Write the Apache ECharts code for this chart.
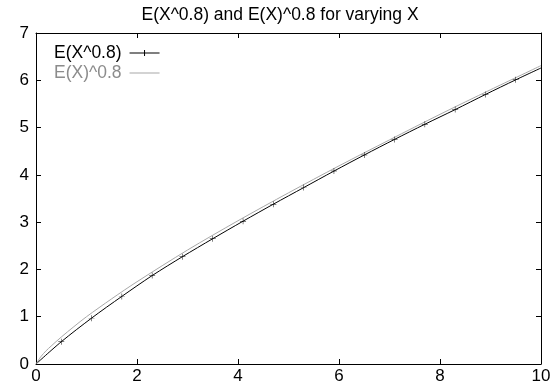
<!DOCTYPE html>
<html lang="en">
<head>
    <meta charset="UTF-8">
    <title>E(X^0.8) and E(X)^0.8</title>
    <script src="https://cdn.jsdelivr.net/npm/echarts@6/dist/echarts.min.js"></script>
</head>
<body style="margin:0;">
<div id="main" style="width:560px; height:387px;"></div>
</body>
<script type="text/javascript">

    // E(X^0.8): points with markers, plus the two end points
    let markX = [0.5, 1.1, 1.7, 2.3, 2.9, 3.5, 4.1, 4.7, 5.3, 5.9, 6.5, 7.1, 7.7, 8.3, 8.9, 9.5];
    let markY = [0.47, 0.97, 1.43, 1.87, 2.27, 2.65, 3.02, 3.38, 3.73, 4.08, 4.42, 4.75, 5.07, 5.38, 5.70, 6.01];
    let endX = [0, 10];
    let endY = [0, 6.26];

    // E(X)^0.8
    let grayX = [0, 0.1, 0.2, 0.3, 0.5, 0.75, 1, 1.5, 2, 3, 4, 5, 6, 7, 8, 9, 10];
    let grayY = [0, 0.16, 0.28, 0.38, 0.57, 0.79, 1.0, 1.38, 1.74, 2.41, 3.03, 3.62, 4.19, 4.74, 5.28, 5.80, 6.31];

    let plus = 'path://M4.6,0h0.8v4.6h4.6v0.8h-4.6v4.6h-0.8v-4.6h-4.6v-0.8h4.6z';
    // legend icons: thin line across a 30x10 box
    let lineIcon = 'path://M0,0h0.01v0.01h-0.01z M0,4.5h30v1h-30z M29.99,9.99h0.01v0.01h-0.01z';
    let lineMarkIcon = 'path://M0,0h0.01v0.01h-0.01z M0,4.5h30v1h-30z M14.5,2h1v6h-1z M29.99,9.99h0.01v0.01h-0.01z';
    let font = 'Liberation Sans';

    let blackData = [{value: [endX[0], endY[0]], symbol: 'none'}];
    markX.forEach(function (x, i) {
        blackData.push([x, markY[i]]);
    });
    blackData.push({value: [endX[1], endY[1]], symbol: 'none'});

    let grayData = grayX.map(function (x, i) { return [x, grayY[i]]; });

    let myChart = echarts.init(document.getElementById('main'));

    let axisBase = {
        axisLine: {show: true, onZero: false, lineStyle: {color: '#000', width: 1}},
        axisTick: {show: true, inside: true, length: 5, lineStyle: {color: '#000'}},
        splitLine: {show: false}
    };

    let option = {
        animation: false,
        backgroundColor: '#fff',
        textStyle: {fontFamily: font},
        title: {
            text: 'E(X^0.8) and E(X)^0.8 for varying X',
            left: 'center',
            top: 1,
            textStyle: {fontFamily: font, fontSize: 17.5, fontWeight: 'normal', color: '#000'}
        },
        legend: {
            orient: 'vertical',
            left: 49,
            top: 39,
            align: 'right',
            itemWidth: 30,
            itemHeight: 10,
            itemGap: 2,
            textStyle: {fontFamily: font, fontSize: 17.5, padding: [0, 3, 0, 0]},
            data: [
                {name: 'E(X^0.8)', icon: lineMarkIcon, itemStyle: {color: '#000'}, textStyle: {color: '#000'}},
                {name: 'E(X)^0.8', icon: lineIcon, itemStyle: {color: '#a8a8a8'}, textStyle: {color: '#8c8c8c'}}
            ]
        },
        grid: {left: 36, right: 19, top: 33, bottom: 23},
        xAxis: [
            Object.assign({}, axisBase, {
                type: 'value', min: 0, max: 10, interval: 2, position: 'bottom',
                axisLabel: {color: '#000', fontSize: 17, margin: 4, fontFamily: font}
            }),
            Object.assign({}, axisBase, {
                type: 'value', min: 0, max: 10, interval: 2, position: 'top',
                axisLabel: {show: false}
            })
        ],
        yAxis: [
            Object.assign({}, axisBase, {
                type: 'value', min: 0, max: 7, interval: 1, position: 'left',
                axisLabel: {color: '#000', fontSize: 17, margin: 7, fontFamily: font}
            }),
            Object.assign({}, axisBase, {
                type: 'value', min: 0, max: 7, interval: 1, position: 'right',
                axisLabel: {show: false}
            })
        ],
        series: [
            {
                name: 'E(X^0.8)',
                type: 'line',
                data: blackData,
                smooth: 0.3,
                symbol: plus,
                symbolSize: 6,
                showAllSymbol: true,
                itemStyle: {color: '#000'},
                lineStyle: {color: '#000', width: 1}
            },
            {
                name: 'E(X)^0.8',
                type: 'line',
                data: grayData,
                smooth: 0.3,
                symbol: 'none',
                itemStyle: {color: '#a8a8a8'},
                lineStyle: {color: '#a8a8a8', width: 1}
            }
        ]
    };

    myChart.setOption(option);
</script>
</html>
